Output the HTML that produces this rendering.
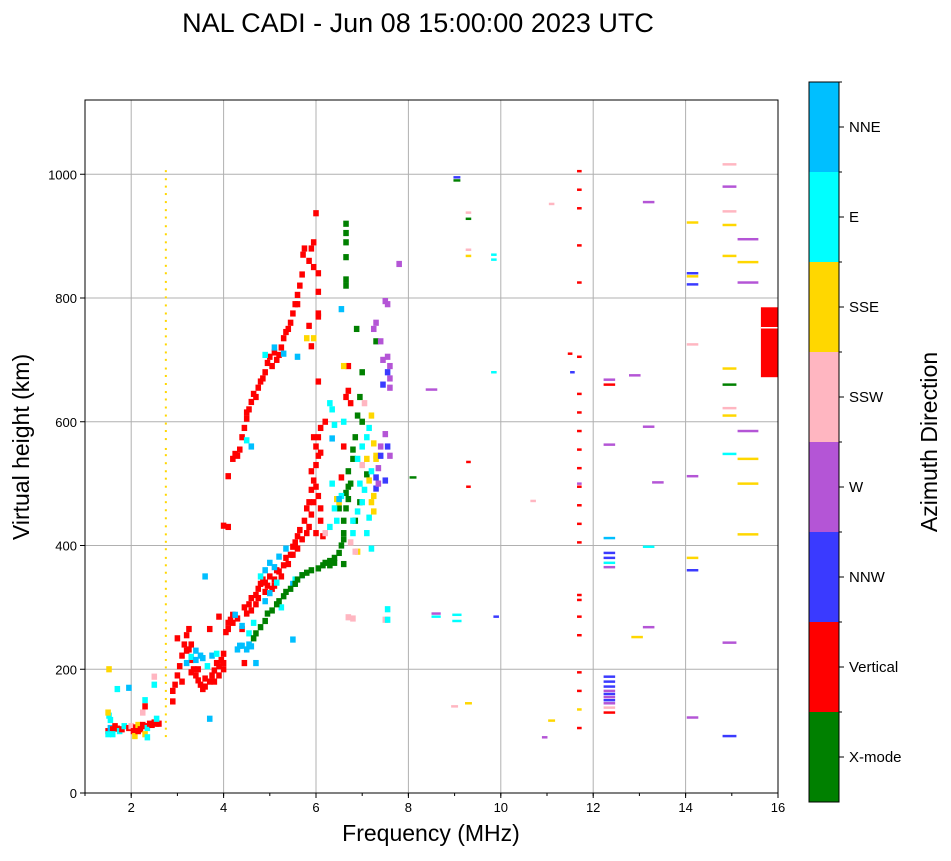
<!DOCTYPE html>
<html><head><meta charset="utf-8">
<style>
html,body{margin:0;padding:0;background:#fff;}
body{width:951px;height:856px;overflow:hidden;font-family:"Liberation Sans",sans-serif;}
</style></head>
<body>
<svg id="chart" width="951" height="856" xmlns="http://www.w3.org/2000/svg" font-family="Liberation Sans, sans-serif">
<text x="418" y="32" font-size="27" text-anchor="middle">NAL CADI - Jun 08 15:00:00 2023 UTC</text>
<g id="grid"></g>
<g id="marks"></g>
<rect x="85" y="100" width="693" height="693" fill="none" stroke="#000" stroke-width="1"/>
<g id="xticks"></g>
<g id="yticks"></g>
<text x="431" y="841" font-size="23" text-anchor="middle">Frequency (MHz)</text>
<text transform="translate(29,447) rotate(-90)" font-size="23" text-anchor="middle">Virtual height (km)</text>
<g id="cbar"></g>
<text transform="translate(937,442) rotate(-90)" font-size="23" text-anchor="middle">Azimuth Direction</text>
</svg>
<script>
const xTicks=[2,4,6,8,10,12,14,16];
const yTicks=[0,200,400,600,800,1000];
const catNames=["X-mode","Vertical","NNW","W","SSW","SSE","E","NNE"];
const catColors=["#008000","#ff0000","#3a3aff","#b455d6","#ffb6c1","#ffd700","#00ffff","#00bfff"];
const freqs=[];const heights=[];const cats=[];const widths=[];
const pts=[
[1.5,100,1],[1.55,105,7],[1.6,103,1],[1.65,108,1],[1.7,104,1],[1.75,100,6],[1.8,103,1],[1.85,108,6],[1.95,105,1],[2.0,108,4],[2.05,100,1],[2.1,106,1],[2.15,110,5],[2.2,103,1],[2.25,110,1],[2.3,108,1],[2.35,105,6],[2.4,112,1],[2.45,110,1],[2.5,114,1],[2.55,112,1],[1.5,95,6],[1.55,118,6],[1.52,125,6],[1.5,130,5],[1.52,200,5],[2.3,95,5],[2.3,150,6],[2.3,140,1],[2.25,130,4],[2.5,175,6],[2.5,188,4],[2.6,112,1],[2.55,120,6],[1.95,170,7],[1.7,168,6],[2.08,92,5],[1.6,95,6],[2.15,100,1],[2.35,90,6],
[2.9,148,1],[2.9,165,1],[2.95,175,1],[3.0,190,1],[3.05,205,1],[3.1,222,1],[3.15,240,1],[3.2,255,1],[3.25,232,1],[3.3,215,1],[3.35,200,1],[3.4,190,1],[3.45,182,1],[3.5,175,1],[3.55,168,1],[3.6,172,1],[3.7,180,1],[3.75,190,1],[3.8,198,1],[3.85,210,1],[3.9,205,1],[3.95,215,1],[4.0,225,1],[4.0,200,1],[4.05,260,1],[4.1,275,1],[4.15,280,1],[4.2,288,1],[4.3,282,1],[4.4,265,1],[4.45,300,1],[4.55,305,1],[4.6,315,1],[4.7,320,1],[4.75,330,1],[4.8,338,1],[4.85,345,1],[4.9,340,1],[5.0,350,1],[5.05,330,1],[5.1,345,1],[5.2,358,1],[5.25,350,1],[5.3,368,1],[5.35,380,1],[5.45,385,1],[5.5,398,1],[5.55,405,1],[5.6,415,1],[5.65,425,1],[5.75,440,1],[5.8,460,1],[5.85,470,1],[5.9,490,1],[5.95,505,1],[6.0,530,1],[6.0,560,1],[6.05,575,1],[6.1,550,1],[6.05,480,1],[6.1,460,1],[6.15,415,1],[6.1,440,1],[6.0,420,1],[6.2,600,1],[6.05,665,1],[6.7,690,1],[6.7,650,1],[6.65,640,1],[6.75,630,1],[6.6,560,1],[6.55,510,1],[3.0,250,1],[3.25,265,1],[3.3,240,1],[4.45,210,1],[4.0,432,1],[4.1,512,1],[4.1,430,1],[3.9,285,1],[3.7,265,1],
[3.1,180,1],[3.2,230,1],[3.3,195,1],[3.45,200,1],[3.6,185,1],[3.8,180,1],[3.9,190,1],[4.0,210,1],[4.1,265,1],[4.2,275,1],[4.5,290,1],[4.6,295,1],[4.7,305,1],[4.75,315,1],[4.9,325,1],[4.95,335,1],[5.1,335,1],[5.15,360,1],[5.4,370,1],[5.5,385,1],[5.6,395,1],[5.7,410,1],[5.8,420,1],[5.9,450,1],[5.95,470,1],[6.0,495,1],[5.9,520,1],[5.85,430,1],[6.05,545,1],[5.95,575,1],[6.1,590,1],
[4.2,540,1],[4.25,548,1],[4.35,555,1],[4.4,575,1],[4.45,590,1],[4.5,605,1],[4.55,620,1],[4.6,632,1],[4.65,645,1],[4.75,655,1],[4.8,665,1],[4.9,680,1],[4.95,695,1],[5.0,705,1],[5.05,690,1],[5.1,712,1],[5.15,700,1],[5.25,720,1],[5.3,735,1],[5.35,745,1],[5.45,760,1],[5.5,775,1],[5.55,790,1],[5.6,805,1],[5.65,820,1],[5.7,838,1],[5.72,870,1],[5.75,880,1],[5.85,860,1],[5.9,880,1],[5.95,890,1],[6.05,840,1],[6.05,810,1],[6.05,775,1],[6.05,770,1],[5.85,755,1],[5.9,722,1],[6.0,937,1],[5.95,850,1],[4.3,545,1],[4.5,615,1],[4.7,640,1],[4.85,670,1],[5.2,708,1],[5.4,750,1],[5.6,790,1],
[3.2,210,7],[3.3,220,6],[3.4,215,7],[3.55,218,7],[3.65,205,6],[3.75,222,7],[3.85,225,6],[4.3,232,7],[4.35,238,7],[4.4,238,7],[4.5,232,7],[4.55,240,7],[4.6,237,7],[4.7,210,7],[4.65,275,6],[4.8,350,6],[4.9,360,7],[5.0,372,7],[5.1,365,7],[5.2,382,7],[5.35,395,7],[5.5,338,7],[5.55,345,6],[5.7,352,7],[4.6,560,7],[4.5,570,6],[4.9,708,6],[5.1,720,7],[5.3,710,7],[5.6,705,7],[6.35,620,6],[6.3,630,6],[6.4,595,6],[6.35,573,7],[3.7,120,7],[3.6,350,7],[4.55,258,6],[5.0,323,7],[5.25,300,6],[5.5,248,7],[3.5,222,7],[3.4,230,7],[4.25,288,7],[4.4,270,7],[4.9,310,7],[5.15,340,6],
[4.65,250,0],[4.7,258,0],[4.8,268,0],[4.9,278,0],[4.95,290,0],[5.05,295,0],[5.15,305,0],[5.2,310,0],[5.3,318,0],[5.35,325,0],[5.45,330,0],[5.55,338,0],[5.6,345,0],[5.7,352,0],[5.8,356,0],[5.9,360,0],[6.05,363,0],[6.15,368,0],[6.2,372,0],[6.3,375,0],[6.4,380,0],[6.5,388,0],[6.55,400,0],[6.6,420,0],[6.6,440,0],[6.65,460,0],[6.65,485,0],[6.7,495,0],[6.7,520,0],[6.8,540,0],[6.8,555,0],[6.85,575,0],[6.9,610,0],[6.95,640,0],[7.0,680,0],[7.1,515,0],[6.95,470,0],[6.5,460,0],[6.65,920,0],[6.65,866,0],[6.65,830,0],[6.65,820,0],[6.65,905,0],[6.65,890,0],[6.88,750,0],[7.3,730,0],[7.0,600,0],[6.85,440,0],[6.6,370,0],[6.3,368,0],[6.4,372,0],[6.7,475,0],[6.75,500,0],[6.6,410,0],
[6.3,430,6],[6.4,460,6],[6.5,470,5],[6.55,480,6],[6.45,440,6],[6.8,440,6],[6.9,455,6],[7.0,470,6],[7.05,490,6],[7.15,505,5],[7.2,520,6],[7.1,540,5],[7.0,560,6],[7.1,575,6],[7.15,590,6],[7.2,610,5],[7.25,480,5],[7.3,545,5],[7.15,445,6],[7.1,420,6],[7.2,395,6],[6.9,390,5],[6.75,405,4],[6.8,420,6],[6.95,500,6],[6.35,500,6],[6.2,420,4],[6.45,475,5],[6.6,600,6],[7.05,630,4],[6.85,390,4],[7.0,530,4],[7.25,565,5],[7.2,470,5],[7.25,455,5],[6.5,475,7],[6.9,540,6],
[7.3,492,2],[7.35,500,3],[7.3,510,2],[7.35,525,3],[7.3,540,5],[7.4,545,2],[7.4,560,3],[7.5,505,2],[7.55,560,2],[7.6,545,3],[7.5,580,3],[7.45,700,3],[7.55,705,3],[7.6,690,3],[7.5,795,3],[7.55,790,3],[7.3,760,3],[7.25,750,3],[7.6,670,3],[7.6,655,3],[7.45,660,2],[7.4,730,3],[7.55,680,2],[8.5,652,3,0.25],[7.8,855,3],
[6.7,284,4],[6.8,282,4],[7.5,280,4],[7.55,280,6],[7.55,297,6],[6.55,782,7],[5.95,735,5],[6.6,690,5],[5.8,735,5],[8.1,510,0,0.15],[8.6,290,3,0.2],[8.6,285,6,0.2],[9.05,288,6,0.2],[9.05,278,6,0.2],[9.9,285,2,0.12],[9.3,145,5,0.15],[9.0,140,4,0.15],[11.1,117,5,0.15],[10.95,90,3,0.12],[10.7,472,4,0.12],[11.1,952,4,0.12],[11.5,710,1,0.1],[11.55,680,2,0.1],[9.3,535,1,0.1],[9.3,495,1,0.1],[9.85,680,6,0.12],[9.85,870,6,0.12],[9.85,862,6,0.12],[9.3,938,4,0.12],[9.3,928,0,0.12],[9.3,878,4,0.12],[9.3,868,5,0.12],[9.05,990,0,0.15],[9.05,995,2,0.15],
[11.7,105,1],[11.7,135,5],[11.7,165,1],[11.7,195,1],[11.7,255,1],[11.7,285,1],[11.7,312,1],[11.7,320,1],[11.7,405,1],[11.7,435,1],[11.7,465,1],[11.7,495,1],[11.7,500,3],[11.7,525,1],[11.7,555,1],[11.7,585,1],[11.7,615,1],[11.7,645,1],[11.7,705,1],[11.7,825,1],[11.7,885,1],[11.7,945,1],[11.7,975,1],[11.7,1005,1],
[12.35,130,1,0.25],[12.35,138,4,0.25],[12.35,145,3,0.25],[12.35,150,2,0.25],[12.35,155,3,0.25],[12.35,160,2,0.25],[12.35,165,3,0.25],[12.35,172,2,0.25],[12.35,180,2,0.25],[12.35,188,2,0.25],[12.35,365,3,0.25],[12.35,372,6,0.25],[12.35,380,2,0.25],[12.35,388,2,0.25],[12.35,412,7,0.25],[12.35,563,3,0.25],[12.35,660,1,0.25],[12.35,668,3,0.25],
[12.95,252,5,0.25],[13.2,268,3,0.25],[13.2,398,6,0.25],[13.4,502,3,0.25],[13.2,592,3,0.25],[12.9,675,3,0.25],[13.2,955,3,0.25],
[14.15,122,3,0.25],[14.15,360,2,0.25],[14.15,380,5,0.25],[14.15,512,3,0.25],[14.15,725,4,0.25],[14.15,822,2,0.25],[14.15,835,5,0.25],[14.15,840,2,0.25],[14.15,922,5,0.25],
[14.95,92,2,0.3],[14.95,243,3,0.3],[14.95,548,6,0.3],[14.95,610,5,0.3],[14.95,622,4,0.3],[14.95,660,0,0.3],[14.95,686,5,0.3],[14.95,868,5,0.3],[14.95,918,5,0.3],[14.95,940,4,0.3],[14.95,980,3,0.3],[14.95,1016,4,0.3],
[15.35,418,5,0.45],[15.35,500,5,0.45],[15.35,540,5,0.45],[15.35,585,3,0.45],[15.35,825,3,0.45],[15.35,858,5,0.45],[15.35,895,3,0.45]
];
pts.forEach(p=>{freqs.push(p[0]);heights.push(p[1]);cats.push(p[2]);widths.push(p[3]!==undefined?p[3]:(p[0]>8?0.1:0.12));});
const dotHeights=[92,104,115,127,140,152,165,178,190,203,215,228,241,254,266,279,292,305,318,330,342,356,368,380,394,406,418,431,444,457,470,482,495,508,520,533,556,546,572,585,597,610,623,636,648,661,674,686,700,712,725,738,750,763,775,788,801,814,826,840,852,865,878,890,903,916,930,942,955,968,980,992,1005];

const X0=85,X1=778,Y0=793,Y1=100;
const xs=f=>X0+(f-1)/(16-1)*(X1-X0);
const ys=h=>Y0-h/1120*(Y0-Y1);
const NS="http://www.w3.org/2000/svg";
function mk(t,a,parent){const e=document.createElementNS(NS,t);for(const k in a)e.setAttribute(k,a[k]);parent.appendChild(e);return e;}
const grid=document.getElementById('grid'),marks=document.getElementById('marks');
const xt=document.getElementById('xticks'),yt=document.getElementById('yticks'),cb=document.getElementById('cbar');
xTicks.forEach(v=>{const x=xs(v);
 const g=mk('line',{x1:x,x2:x,y1:Y1,y2:Y0,stroke:'#b0b0b0','stroke-width':1},grid);
 
 mk('line',{x1:x,x2:x,y1:Y0,y2:Y0+5,stroke:'#000'},xt);
 const t=mk('text',{x:x,y:Y0+19,'font-size':13,'text-anchor':'middle'},xt);t.textContent=v;
 });
for(let v=1;v<=16;v++){mk('line',{x1:xs(v),x2:xs(v),y1:Y0,y2:Y0+3,stroke:'#000'},xt);}
yTicks.forEach(v=>{const y=ys(v);
 const g=mk('line',{x1:X0,x2:X1,y1:y,y2:y,stroke:'#b0b0b0','stroke-width':1},grid);
 
 mk('line',{x1:X0-5,x2:X0,y1:y,y2:y,stroke:'#000'},yt);
 const t=mk('text',{x:X0-8,y:y+5,'font-size':13,'text-anchor':'end'},yt);t.textContent=v;
 });
dotHeights.forEach(h=>{const r=mk('rect',{x:xs(2.75)-1,y:ys(h)-1,width:2,height:2,fill:catColors[5]},marks);
 });
for(let i=0;i<freqs.length;i++){
 const x=xs(freqs[i]-widths[i]/2),w=xs(freqs[i]+widths[i]/2)-x;
 const hk=freqs[i]>8?4:10;
 const r=mk('rect',{x:x,y:ys(heights[i]+hk/2),width:w,height:ys(0)-ys(hk),fill:catColors[cats[i]]},marks);
 }
const blk=mk('rect',{x:xs(15.63),y:ys(785),width:X1-xs(15.63),height:ys(672)-ys(785),fill:'#ff0000'},marks);

mk('line',{x1:xs(15.63),x2:X1,y1:ys(752),y2:ys(752),stroke:'#fff','stroke-width':1.5},marks);
const CB0=802,CB1=82,seg=(CB0-CB1)/catNames.length;
catNames.forEach((n,i)=>{const y=CB0-(i+1)*seg;
 const r=mk('rect',{x:809,y:y,width:30,height:seg,fill:catColors[i]},cb);
 
 mk('line',{x1:839,x2:844,y1:y+seg/2,y2:y+seg/2,stroke:'#000'},cb);
 mk('line',{x1:839,x2:842,y1:y,y2:y,stroke:'#000'},cb);
 const t=mk('text',{x:849,y:y+seg/2+5,'font-size':15},cb);t.textContent=n;
 });
mk('rect',{x:809,y:CB1,width:30,height:CB0-CB1,fill:'none',stroke:'#000'},cb);
</script>
</body></html>
